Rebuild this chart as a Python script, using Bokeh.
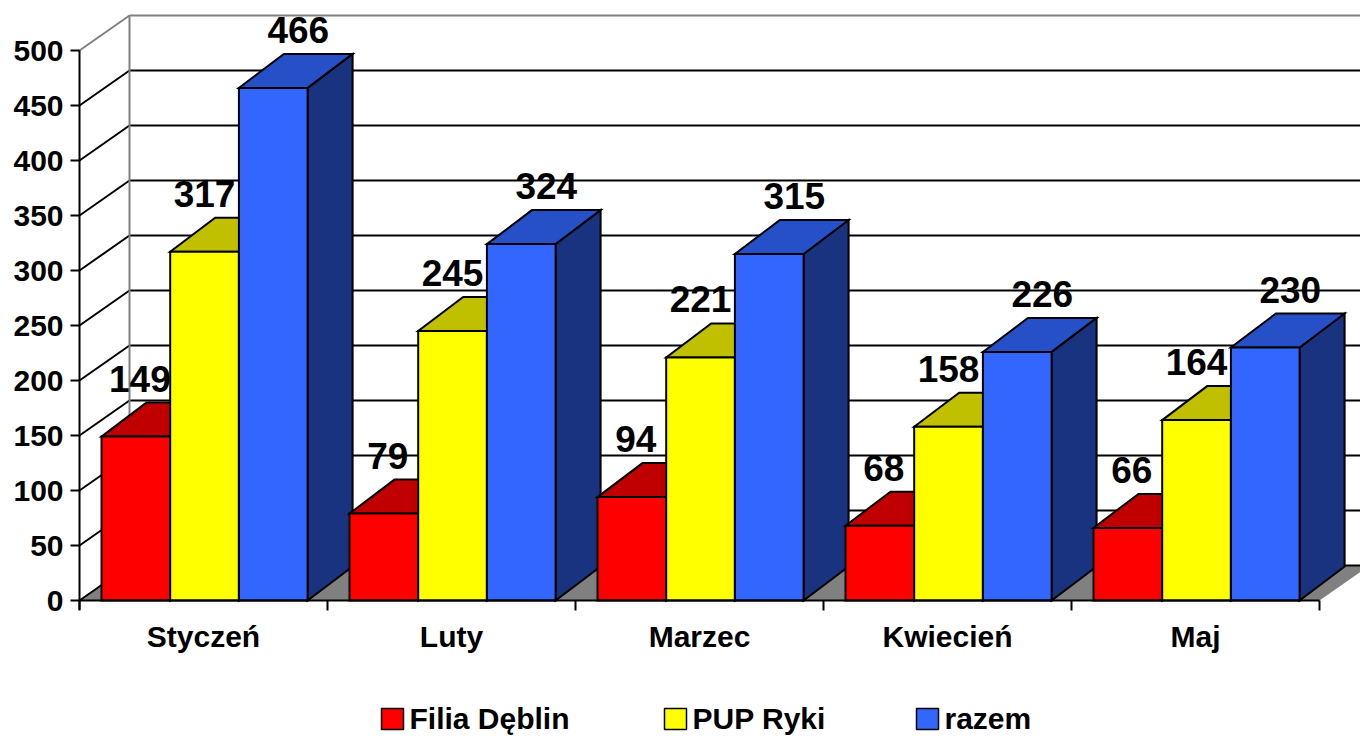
from bokeh.plotting import figure
from bokeh.models import Range1d
from bokeh.core.properties import value
from bokeh.embed import file_html
from bokeh.resources import INLINE

# ---------------- data ----------------
categories = ["Styczeń", "Luty", "Marzec", "Kwiecień", "Maj"]
filia_deblin = [149, 79, 94, 68, 66]
pup_ryki = [317, 245, 221, 158, 164]
razem = [466, 324, 315, 226, 230]
series_names = ["Filia Dęblin", "PUP Ryki", "razem"]
y_ticks = [0, 50, 100, 150, 200, 250, 300, 350, 400, 450, 500]

series = [filia_deblin, pup_ryki, razem]
front_cols = ["#FF0000", "#FFFF00", "#3366FF"]
top_cols = ["#C00000", "#C0C000", "#2650C8"]
side_cols = ["#800000", "#808000", "#1A3380"]

# ---------------- layout helpers (reference pixel -> data) ----------------
PXC = 248.0   # pixels per category
PXV = 1.1     # pixels per value unit
OX, OY = 79.0, 600.0
MARGIN = 0
W, H = 1360, 737


def X(px):
    return (px - OX) / PXC


def Y(py):
    return (OY - py) / PXV


def DX(px):
    return px / PXC


def DV(px):
    return px / PXV


FONT = value("Liberation Sans")

p = figure(width=W, height=H,
           x_range=Range1d(X(MARGIN), X(MARGIN + W)),
           y_range=Range1d(Y(MARGIN + H), Y(MARGIN)),
           output_backend="svg", toolbar_location=None,
           x_axis_location=None, y_axis_location=None, min_border=0)
p.grid.visible = False
p.outline_line_color = None
p.background_fill_color = "white"
p.border_fill_color = "white"

ncat = len(categories)
ymax = y_ticks[-1]
WDX, WDY = DX(50), DV(35)        # wall depth
BDX, BDY = DX(45), DV(34)        # bar depth
GAP = DX(22)
BW = DX(68.7)

# floor
p.patch([0, ncat, ncat + WDX, WDX], [0, 0, WDY, WDY],
        fill_color="#808080", line_color=None)

# gridlines on back wall and side wall
gx, gy, gc = [], [], []
for v in y_ticks:
    c = "#808080" if v == ymax else "black"
    gx.append([WDX, ncat + WDX + 1]); gy.append([v + WDY, v + WDY]); gc.append(c)
    gx.append([0, WDX]); gy.append([v, v + WDY]); gc.append(c)
p.multi_line(gx, gy, line_color=gc, line_width=2)
p.line([WDX, WDX], [WDY, ymax + WDY], line_color="#808080", line_width=2)

# bars
xs, ys, fc = [], [], []
for i in range(ncat):
    for j, s in enumerate(series):
        v = s[i]
        L = i + GAP + j * BW
        R = L + BW
        # side face
        xs.append([R, R + BDX, R + BDX, R]); ys.append([0, BDY, v + BDY, v]); fc.append(side_cols[j])
        # top face
        xs.append([L, R, R + BDX, L + BDX]); ys.append([v, v, v + BDY, v + BDY]); fc.append(top_cols[j])
        # front face
        xs.append([L, R, R, L]); ys.append([0, 0, v, v]); fc.append(front_cols[j])
p.patches(xs, ys, fill_color=fc, line_color="black", line_width=2, line_join="miter")

# axes
p.line([0, 0], [-DV(9), ymax], line_color="black", line_width=2)
p.multi_line([[-DX(9), 0] for _ in y_ticks], [[v, v] for v in y_ticks],
             line_color="black", line_width=2)
p.line([0, ncat], [0, 0], line_color="black", line_width=2)
p.multi_line([[k, k] for k in range(ncat + 1)], [[0, -DV(10)] for _ in range(ncat + 1)],
             line_color="black", line_width=2)

# y tick labels
p.text(x=[X(63)] * len(y_ticks), y=y_ticks, text=[str(v) for v in y_ticks],
       text_font=FONT, text_font_style="bold", text_font_size="30px",
       text_align="right", text_baseline="middle", text_color="black")

# category labels
p.text(x=[i + 0.5 for i in range(ncat)], y=[Y(636)] * ncat, text=categories,
       text_font=FONT, text_font_style="bold", text_font_size="30px",
       text_align="center", text_baseline="middle", text_color="black")

# data labels
lab_off = [DX(4), DX(0), DX(25)]
lx, ly, lt = [], [], []
for i in range(ncat):
    for j, s in enumerate(series):
        v = s[i]
        L = i + GAP + j * BW
        lx.append(L + BW / 2 + lab_off[j])
        ly.append(v + BDY + DV(24))
        lt.append(str(v))
p.text(x=lx, y=ly, text=lt, text_font=FONT, text_font_style="bold",
       text_font_size="37px", text_align="center", text_baseline="middle",
       text_color="black")

# legend
leg_x = [381, 664, 916]
sq_top, sq_bot = 708, 729
p.quad(left=[X(a) for a in leg_x], right=[X(a + 22) for a in leg_x],
       bottom=[Y(sq_bot)] * 3, top=[Y(sq_top)] * 3,
       fill_color=front_cols, line_color="black", line_width=1.5)
p.text(x=[X(a + 28) for a in leg_x], y=[Y(718)] * 3, text=series_names,
       text_font=FONT, text_font_style="bold", text_font_size="30px",
       text_align="left", text_baseline="middle", text_color="black")

open("out.html", "w").write(file_html(p, INLINE))
